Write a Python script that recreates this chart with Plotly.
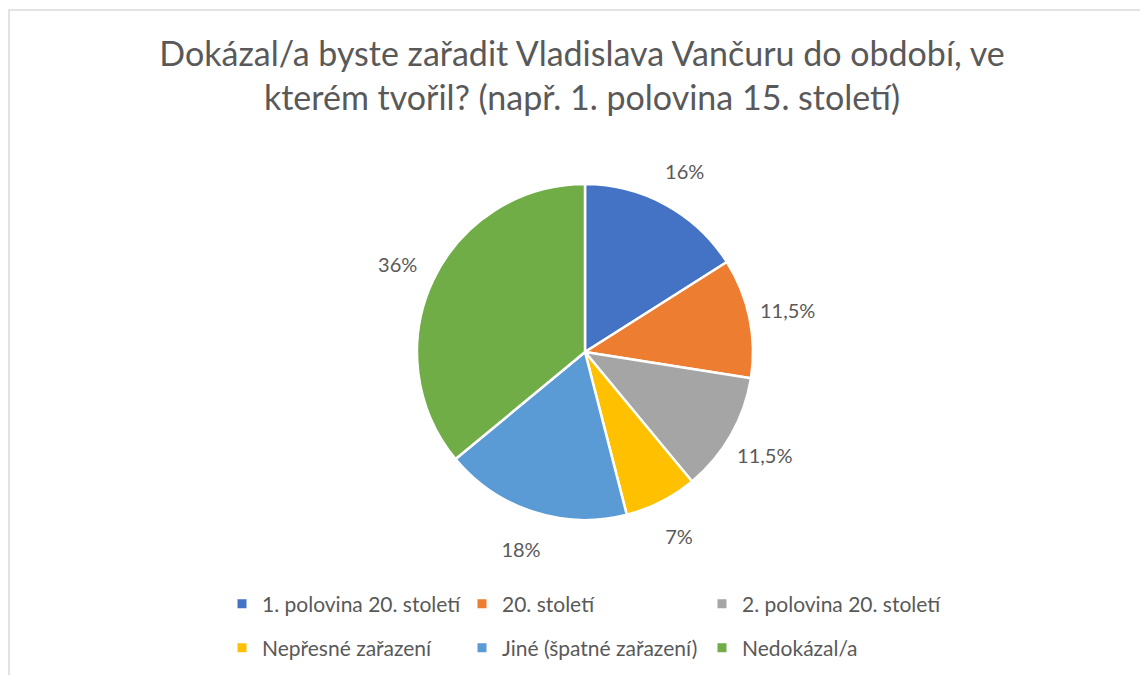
import plotly.graph_objects as go

# survey answers (share of respondents, %)
categories = [
    "1. polovina 20. století",
    "20. století",
    "2. polovina 20. století",
    "Nepřesné zařazení",
    "Jiné (špatné zařazení)",
    "Nedokázal/a",
]
shares = [16, 11.5, 11.5, 7, 18, 36]
colors = ["#4472C4", "#ED7D31", "#A5A5A5", "#FFC000", "#5B9BD5", "#70AD47"]

title_text = ("Dokázal/a byste zařadit Vladislava Vančuru do období, ve<br>"
              "kterém tvořil? (např. 1. polovina 15. století)")

# percent labels with Czech decimal comma
labels_txt = [f"{v:g}%".replace(".", ",") for v in shares]

W, H = 1148, 675
cx, cy, r = 577, 344, 168  # pie centre / radius in pixels
r_lab = 246                # outer radius of the (invisible) label ring


def dom(rad):
    return dict(x=[(cx - rad) / W, (cx + rad) / W],
                y=[(H - cy - rad) / H, (H - cy + rad) / H])


fig = go.Figure()
fig.add_trace(go.Pie(
    labels=categories,
    values=shares,
    sort=False,
    direction="clockwise",
    rotation=0,
    showlegend=False,
    textinfo="none",
    marker=dict(colors=colors, line=dict(color="white", width=2.5)),
    domain=dom(r),
    hoverinfo="label+percent",
))

# invisible ring around the pie that carries the data labels,
# so they sit a bit further out like in Excel
fig.add_trace(go.Pie(
    labels=categories,
    values=shares,
    text=labels_txt,
    textinfo="text",
    textposition="inside",
    insidetextorientation="horizontal",
    insidetextfont=dict(size=20, color="#595959"),
    sort=False,
    direction="clockwise",
    rotation=0,
    hole=r / r_lab,
    showlegend=False,
    marker=dict(colors=["rgba(0,0,0,0)"] * len(shares),
                line=dict(width=0)),
    domain=dom(r_lab),
    hoverinfo="skip",
))

# legend entries, two rows of three like the original
for i, (name, col) in enumerate(zip(categories, colors)):
    fig.add_trace(go.Scatter(
        x=[None], y=[None], mode="markers", name=name,
        marker=dict(symbol="square", size=9, color=col),
        legend="legend" if i < 3 else "legend2",
    ))

leg = dict(orientation="h", xanchor="left", yanchor="middle",
           entrywidth=195, entrywidthmode="pixels",
           bgcolor="rgba(0,0,0,0)",
           font=dict(size=21, color="#595959"))

fig.update_layout(
    width=W, height=H,
    margin=dict(l=0, r=0, t=0, b=0),
    paper_bgcolor="white",
    plot_bgcolor="white",
    font=dict(family="Lato, Open Sans, sans-serif", color="#595959"),
    title=dict(text=title_text, x=0.5, xanchor="center",
               y=1 - 58 / H, yanchor="top",
               font=dict(size=34, color="#595959")),
    xaxis=dict(visible=False),
    yaxis=dict(visible=False),
    legend=dict(leg, x=214 / W, y=1 - 596 / H),
    legend2=dict(leg, x=214 / W, y=1 - 640 / H),
    shapes=[dict(type="rect", xref="paper", yref="paper",
                 x0=1 / W, x1=1.02, y0=-0.02, y1=1 - 2 / H,
                 line=dict(color="#D9D9D9", width=1.5))],
)

fig.write_html("out.html")
